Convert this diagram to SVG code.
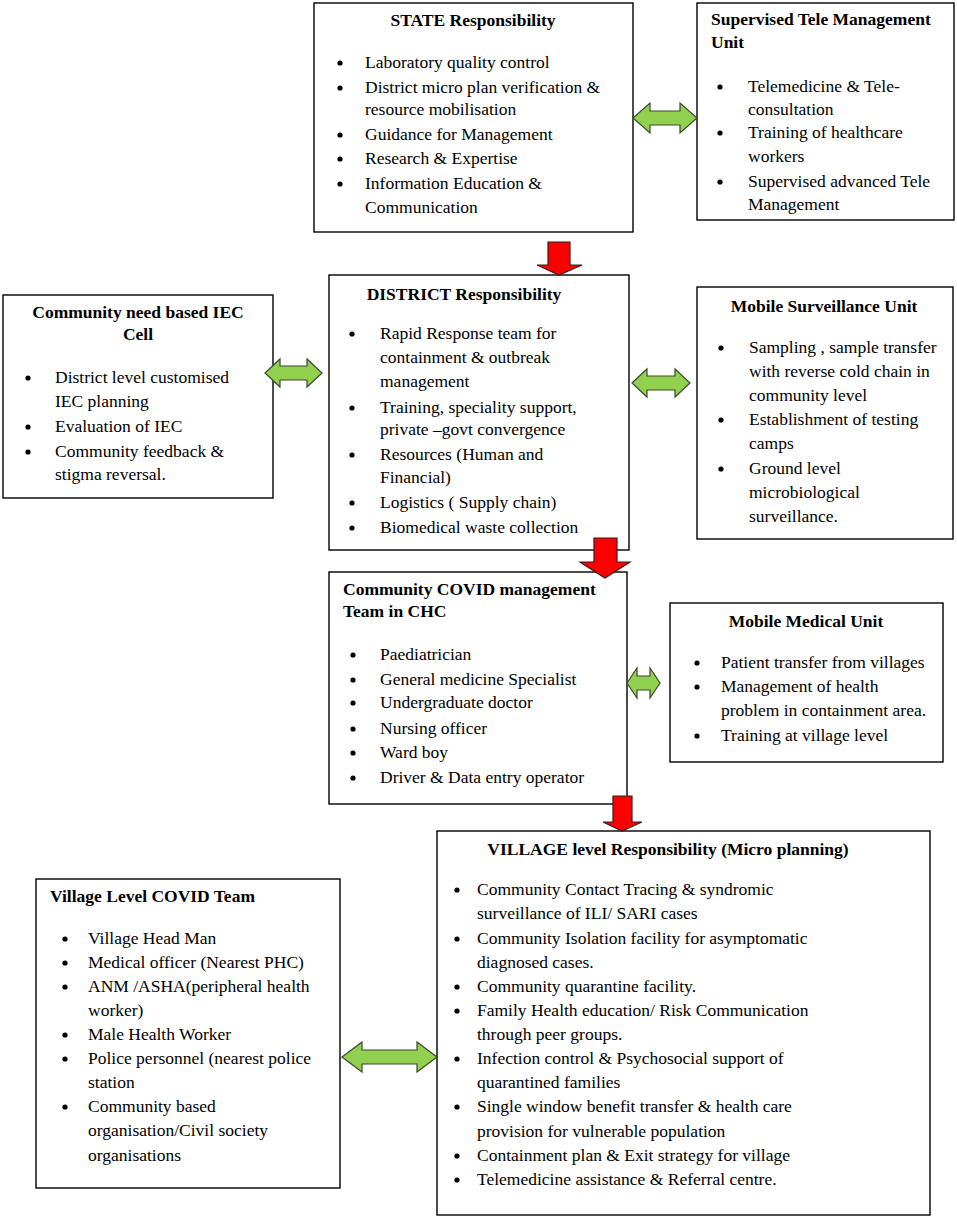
<svg xmlns="http://www.w3.org/2000/svg" width="957" height="1218" viewBox="0 0 957 1218">
<style>
.box{fill:#fff;stroke:#000;stroke-width:1.4}
text{font-family:"Liberation Serif","Times New Roman",serif;font-size:17.5px;fill:#000}
.h{font-weight:bold}
.c{text-anchor:middle}
circle{fill:#000}
.g{fill:#92D050;stroke:#3b4a2a;stroke-width:1.2}
.r{fill:#FF0000;stroke:#3a1a1a;stroke-width:1.2}
</style>
<rect width="957" height="1218" fill="#fff"/>

<g id="state">
<rect class="box" x="314" y="3" width="319" height="229"/>
<text class="h c" x="473" y="26">STATE Responsibility</text>
<circle cx="340" cy="63" r="2.6"/><text x="365" y="68">Laboratory quality control</text>
<circle cx="340" cy="88" r="2.6"/><text x="365" y="93">District micro plan verification &amp;</text>
<text x="365" y="115">resource mobilisation</text>
<circle cx="340" cy="135" r="2.6"/><text x="365" y="140">Guidance for Management</text>
<circle cx="340" cy="159" r="2.6"/><text x="365" y="164">Research &amp; Expertise</text>
<circle cx="340" cy="184" r="2.6"/><text x="365" y="189">Information Education &amp;</text>
<text x="365" y="213">Communication</text>
</g>

<g id="tele">
<rect class="box" x="697" y="3" width="257" height="217"/>
<text class="h" x="711" y="25">Supervised Tele Management</text>
<text class="h" x="711" y="48">Unit</text>
<circle cx="720" cy="87" r="2.6"/><text x="748" y="92">Telemedicine &amp; Tele-</text>
<text x="748" y="115">consultation</text>
<circle cx="720" cy="133" r="2.6"/><text x="748" y="138">Training of healthcare</text>
<text x="748" y="162">workers</text>
<circle cx="720" cy="182" r="2.6"/><text x="748" y="187">Supervised advanced Tele</text>
<text x="748" y="210">Management</text>
</g>

<g id="iec">
<rect class="box" x="3" y="295" width="270" height="203"/>
<text class="h c" x="138" y="318">Community need based IEC</text>
<text class="h c" x="138" y="340">Cell</text>
<circle cx="28" cy="378" r="2.6"/><text x="55" y="383">District level customised</text>
<text x="55" y="407">IEC planning</text>
<circle cx="28" cy="427" r="2.6"/><text x="55" y="432">Evaluation of IEC</text>
<circle cx="28" cy="452" r="2.6"/><text x="55" y="457">Community feedback &amp;</text>
<text x="55" y="480">stigma reversal.</text>
</g>

<g id="district">
<rect class="box" x="329" y="275" width="300" height="275"/>
<text class="h c" x="464" y="300">DISTRICT Responsibility</text>
<circle cx="352" cy="334" r="2.6"/><text x="380" y="339">Rapid Response team for</text>
<text x="380" y="363">containment &amp; outbreak</text>
<text x="380" y="387">management</text>
<circle cx="352" cy="408" r="2.6"/><text x="380" y="413">Training, speciality support,</text>
<text x="380" y="435">private –govt convergence</text>
<circle cx="352" cy="455" r="2.6"/><text x="380" y="460">Resources (Human and</text>
<text x="380" y="483">Financial)</text>
<circle cx="352" cy="503" r="2.6"/><text x="380" y="508">Logistics ( Supply chain)</text>
<circle cx="352" cy="528" r="2.6"/><text x="380" y="533">Biomedical waste collection</text>
</g>

<g id="msu">
<rect class="box" x="697" y="287" width="256" height="252"/>
<text class="h c" x="824" y="312">Mobile Surveillance Unit</text>
<circle cx="721" cy="348" r="2.6"/><text x="749" y="353">Sampling , sample transfer</text>
<text x="749" y="377">with reverse cold chain in</text>
<text x="749" y="401">community level</text>
<circle cx="721" cy="420" r="2.6"/><text x="749" y="425">Establishment of testing</text>
<text x="749" y="449">camps</text>
<circle cx="721" cy="469" r="2.6"/><text x="749" y="474">Ground level</text>
<text x="749" y="498">microbiological</text>
<text x="749" y="522">surveillance.</text>
</g>

<g id="chc">
<rect class="box" x="329" y="572" width="298" height="232"/>
<text class="h" x="343" y="595">Community COVID management</text>
<text class="h" x="343" y="617">Team in CHC</text>
<circle cx="353" cy="655" r="2.6"/><text x="380" y="660">Paediatrician</text>
<circle cx="353" cy="680" r="2.6"/><text x="380" y="685">General medicine Specialist</text>
<circle cx="353" cy="703" r="2.6"/><text x="380" y="708">Undergraduate doctor</text>
<circle cx="353" cy="729" r="2.6"/><text x="380" y="734">Nursing officer</text>
<circle cx="353" cy="753" r="2.6"/><text x="380" y="758">Ward boy</text>
<circle cx="353" cy="778" r="2.6"/><text x="380" y="783">Driver &amp; Data entry operator</text>
</g>

<g id="mmu">
<rect class="box" x="670" y="603" width="273" height="159"/>
<text class="h c" x="806" y="627">Mobile Medical Unit</text>
<circle cx="697" cy="663" r="2.6"/><text x="721" y="668">Patient transfer from villages</text>
<circle cx="697" cy="687" r="2.6"/><text x="721" y="692">Management of health</text>
<text x="721" y="716">problem in containment area.</text>
<circle cx="697" cy="736" r="2.6"/><text x="721" y="741">Training at village level</text>
</g>

<g id="vteam">
<rect class="box" x="36" y="879" width="304" height="309"/>
<text class="h" x="50" y="902">Village Level COVID Team</text>
<circle cx="65" cy="939" r="2.6"/><text x="88" y="944">Village Head Man</text>
<circle cx="65" cy="963" r="2.6"/><text x="88" y="968">Medical officer (Nearest PHC)</text>
<circle cx="65" cy="987" r="2.6"/><text x="88" y="992">ANM /ASHA(peripheral health</text>
<text x="88" y="1016">worker)</text>
<circle cx="65" cy="1035" r="2.6"/><text x="88" y="1040">Male Health Worker</text>
<circle cx="65" cy="1059" r="2.6"/><text x="88" y="1064">Police personnel (nearest police</text>
<text x="88" y="1088">station</text>
<circle cx="65" cy="1107" r="2.6"/><text x="88" y="1112">Community based</text>
<text x="88" y="1136">organisation/Civil society</text>
<text x="88" y="1161">organisations</text>
</g>

<g id="village">
<rect class="box" x="437" y="831" width="493" height="384"/>
<text class="h c" x="668" y="855">VILLAGE level Responsibility (Micro planning)</text>
<circle cx="457" cy="890" r="2.6"/><text x="477" y="895">Community Contact Tracing &amp; syndromic</text>
<text x="477" y="919">surveillance of ILI/ SARI cases</text>
<circle cx="457" cy="939" r="2.6"/><text x="477" y="944">Community Isolation facility for asymptomatic</text>
<text x="477" y="968">diagnosed cases.</text>
<circle cx="457" cy="987" r="2.6"/><text x="477" y="992">Community quarantine facility.</text>
<circle cx="457" cy="1011" r="2.6"/><text x="477" y="1016">Family Health education/ Risk Communication</text>
<text x="477" y="1040">through peer groups.</text>
<circle cx="457" cy="1059" r="2.6"/><text x="477" y="1064">Infection control &amp; Psychosocial support of</text>
<text x="477" y="1088">quarantined families</text>
<circle cx="457" cy="1107" r="2.6"/><text x="477" y="1112">Single window benefit transfer &amp; health care</text>
<text x="477" y="1137">provision for vulnerable population</text>
<circle cx="457" cy="1156" r="2.6"/><text x="477" y="1161">Containment plan &amp; Exit strategy for village</text>
<circle cx="457" cy="1180" r="2.6"/><text x="477" y="1185">Telemedicine assistance &amp; Referral centre.</text>
</g>

<g id="connectors">
<polygon class="g" points="633,118 650,103 650,111 680,111 680,103 697,118 680,133 680,125 650,125 650,133"/>
<polygon class="g" points="265,373 280,359 280,366 307,366 307,359 322,373 307,387 307,380 280,380 280,387"/>
<polygon class="g" points="632,383 647,369 647,376 675,376 675,369 690,383 675,397 675,390 647,390 647,397"/>
<polygon class="g" points="627,683 637,668 637,676 650,676 650,668 660,683 650,698 650,690 637,690 637,698"/>
<polygon class="g" points="342,1057 362,1042 362,1050 417,1050 417,1042 437,1057 417,1072 417,1064 362,1064 362,1072"/>
<polygon class="r" points="548,242 570,242 570,265 582,265 559,275 537,265 548,265"/>
<polygon class="r" points="594,538 617,538 617,562 630,562 605,578 580,562 594,562"/>
<polygon class="r" points="613,796 632,796 632,822 642,822 622,831 603,822 613,822"/>
</g>
</svg>
